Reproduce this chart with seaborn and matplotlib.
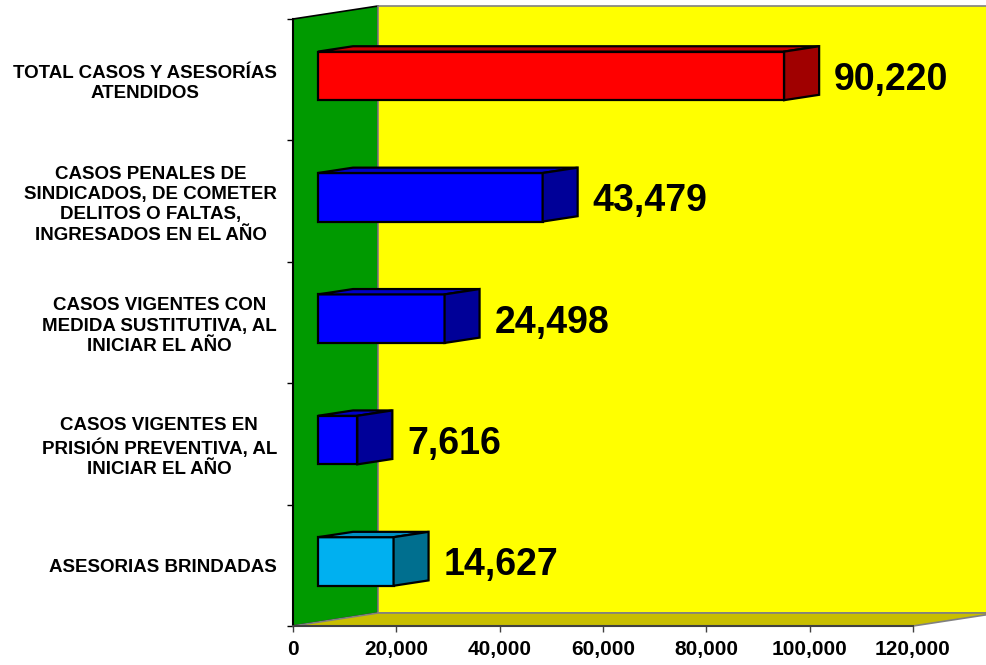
import numpy as np
import pandas as pd
import seaborn as sns
import matplotlib.pyplot as plt
from matplotlib.patches import Polygon

# data
categories = [
    "TOTAL CASOS Y ASESORÍAS\nATENDIDOS",
    "CASOS PENALES DE\nSINDICADOS, DE COMETER\nDELITOS O FALTAS,\nINGRESADOS EN EL AÑO",
    "CASOS VIGENTES CON\nMEDIDA SUSTITUTIVA, AL\nINICIAR EL AÑO",
    "CASOS VIGENTES EN\nPRISIÓN PREVENTIVA, AL\nINICIAR EL AÑO",
    "ASESORIAS BRINDADAS",
]
values = [90220, 43479, 24498, 7616, 14627]
x_ticks = [0, 20000, 40000, 60000, 80000, 100000, 120000]

front_colors = ["#FF0000", "#0000FF", "#0000FF", "#0000FF", "#00B0F0"]
top_colors = ["#C80000", "#0000C8", "#0000C8", "#0000C8", "#0090C4"]
side_colors = ["#A00000", "#000098", "#000098", "#000098", "#006F8F"]

sns.set_theme(style="ticks")
plt.rcParams["font.family"] = ["Liberation Sans", "DejaVu Sans"]

W, H = 987, 665
fig = plt.figure(figsize=(W / 100, H / 100), dpi=100)
# front plane of the 3d box, in pixels
left_px, right_px, top_px, bottom_px = 293, 913, 19, 626
ax = fig.add_axes([left_px / W, 1 - bottom_px / H,
                   (right_px - left_px) / W, (bottom_px - top_px) / H])
ax.patch.set_visible(False)

df = pd.DataFrame({"categoria": categories, "valor": values})
sns.barplot(data=df, x="valor", y="categoria", hue="categoria",
            palette=front_colors, saturation=1, width=0.4,
            edgecolor="black", linewidth=1.6, legend=False, ax=ax, zorder=2)

ax.set_xlim(x_ticks[0], x_ticks[-1])
ax.set_ylim(len(categories) - 0.5, -0.5)

# pixel -> data conversion for the fake depth
sx = (x_ticks[-1] - x_ticks[0]) / (right_px - left_px)
sy = len(categories) / (bottom_px - top_px)
slope = 13 / 85          # rise per pixel of depth
wall_depth = 85
bar_front, bar_depth = 25, 35


def back(x, y, d):
    return (x + d * sx, y - d * slope * sy)


bars = list(ax.patches)
for i, p in enumerate(bars):
    x0, y0 = back(p.get_x(), p.get_y(), bar_front)
    w, h = p.get_width(), p.get_height()
    p.set_x(x0)
    p.set_y(y0)
    tl, tr, br = (x0, y0), (x0 + w, y0), (x0 + w, y0 + h)
    top = [tl, tr, back(*tr, bar_depth), back(*tl, bar_depth)]
    side = [tr, br, back(*br, bar_depth), back(*tr, bar_depth)]
    ax.add_patch(Polygon(top, closed=True, fc=top_colors[i], ec="black",
                         lw=1.6, zorder=2, joinstyle="miter"))
    ax.add_patch(Polygon(side, closed=True, fc=side_colors[i], ec="black",
                         lw=1.6, zorder=2, joinstyle="miter"))
    ax.text(x0 + w + 50 * sx, y0 + h / 2, f"{values[i]:,}", ha="left",
            va="center_baseline", fontsize=27, fontweight="bold",
            color="black", zorder=3)

# walls and floor, in axes fraction
dxw = wall_depth / (right_px - left_px)
dyw = wall_depth * slope / (bottom_px - top_px)
green = Polygon([(0, 0), (0, 1), (dxw, 1 + dyw), (dxw, dyw)], closed=True,
                fc="#009A00", ec="black", lw=1.2, transform=ax.transAxes,
                clip_on=False, zorder=0.2)
yellow = Polygon([(dxw, dyw), (dxw, 1 + dyw), (1 + dxw, 1 + dyw), (1 + dxw, dyw)],
                 closed=True, fc="#FFFF00", ec="#808080", lw=1.2,
                 transform=ax.transAxes, clip_on=False, zorder=0.3)
floor = Polygon([(0, 0), (1, 0), (1 + dxw, dyw), (dxw, dyw)], closed=True,
                fc="#C8BE00", ec="#808080", lw=1.2, transform=ax.transAxes,
                clip_on=False, zorder=0.4)
for poly in (green, yellow, floor):
    ax.add_patch(poly)

# axes styling
ax.set_xlabel("")
ax.set_ylabel("")
sns.despine(ax=ax, top=True, right=True)
ax.spines["left"].set_color("black")
ax.spines["left"].set_linewidth(1.5)
ax.spines["bottom"].set_color("#404040")
ax.spines["bottom"].set_linewidth(1.5)

ax.set_xticks(x_ticks)
ax.set_xticklabels([f"{t:,}" for t in x_ticks])
ax.tick_params(axis="x", length=4, width=1, color="#404040", pad=6,
               labelsize=15, labelcolor="black")
for lab in ax.get_xticklabels():
    lab.set_fontweight("bold")

ax.set_yticks(range(len(categories)))
ax.set_yticks(np.arange(-0.5, len(categories), 1), minor=True)
ax.tick_params(axis="y", which="major", length=0, pad=11.5, labelsize=13.5,
               labelcolor="black")
ax.tick_params(axis="y", which="minor", length=4, width=1, color="black")
for lab in ax.get_yticklabels():
    lab.set_fontweight("bold")
    lab.set_multialignment("center")
    lab.set_linespacing(1.25)

fig.savefig("out.png", dpi=100)
